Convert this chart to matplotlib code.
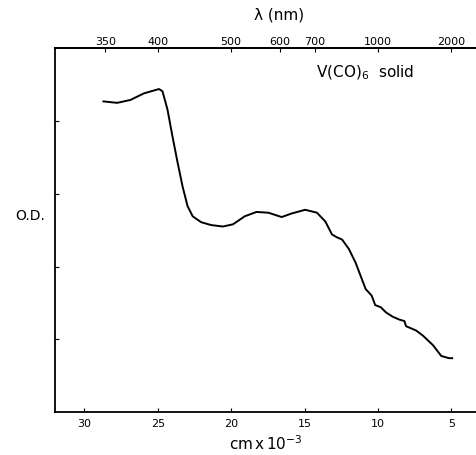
import matplotlib
matplotlib.use("Agg")
import matplotlib.pyplot as plt
import numpy as np

# wavenumber (cm^-1 x 10^-3) and optical density (arbitrary units)
wavenumber = [28.70, 27.77, 26.86, 25.95, 24.92, 24.68, 24.34, 24.00, 23.65, 23.31,
              22.97, 22.62, 22.05, 21.37, 20.56, 19.88, 19.08, 18.28, 17.47, 16.56,
              15.87, 14.96, 14.16, 13.59, 13.13, 12.78, 12.44, 11.98, 11.52, 11.18,
              10.84, 10.43, 10.19, 9.81, 9.46, 9.00, 8.54, 8.20, 8.09, 7.75,
              7.40, 6.94, 6.26, 5.69, 5.16, 4.95]
od = [4.27, 4.25, 4.29, 4.38, 4.44, 4.41, 4.16, 3.79, 3.43, 3.10,
      2.83, 2.69, 2.61, 2.57, 2.55, 2.58, 2.69, 2.75, 2.74, 2.68,
      2.73, 2.78, 2.74, 2.62, 2.44, 2.40, 2.37, 2.24, 2.05, 1.87,
      1.69, 1.60, 1.47, 1.44, 1.37, 1.31, 1.27, 1.25, 1.18, 1.15,
      1.12, 1.05, 0.92, 0.77, 0.74, 0.74]

bottom_ticks = [30, 25, 20, 15, 10, 5]
top_ticks_nm = [350, 400, 500, 600, 700, 1000, 2000]
y_ticks = [1, 2, 3, 4]

fig = plt.figure(figsize=(4.76, 4.56), dpi=100)
ax = fig.add_axes([55/476, 1 - 413/456, 1 - 55/476 + 0.01, (413 - 49.3)/456])

ax.plot(wavenumber, od, color="black", lw=1.4, solid_joinstyle="round")
ax.set_xlim(32.0, 3.0)
ax.set_ylim(0, 5)

ax.spines["right"].set_visible(False)
for s in ["left", "top", "bottom"]:
    ax.spines[s].set_linewidth(1.3)

ax.set_xticks(bottom_ticks)
ax.set_xticklabels([str(t) for t in bottom_ticks], fontsize=8)
ax.set_yticks(y_ticks)
ax.set_yticklabels([])
ax.tick_params(axis="x", direction="in", length=3, width=0.8, pad=4)
ax.tick_params(axis="y", direction="in", length=3, width=0.8)

sec = ax.secondary_xaxis("top", functions=(lambda k: 1e4 / np.asarray(k, dtype=float),
                                            lambda l: 1e4 / np.asarray(l, dtype=float)))
sec.set_xticks(top_ticks_nm)
sec.set_xticklabels([str(t) for t in top_ticks_nm], fontsize=8)
sec.tick_params(direction="in", length=3, width=0.8, pad=2)
sec.spines["top"].set_linewidth(1.3)

fig.text(279/476, 1 - 15/456, "λ (nm)", ha="center", va="center", fontsize=11)
fig.text(266/476, 1 - 444/456, r"cm$\,$x$\,$10$^{-3}$", ha="center", va="center", fontsize=11)
fig.text(30/476, 1 - 216/456, "O.D.", ha="center", va="center", fontsize=10)
ax.text(365/476, 1 - 73/456, r"V(CO)$_6$  solid", transform=fig.transFigure,
        ha="center", va="center", fontsize=11)

fig.savefig("out.png", dpi=100)
